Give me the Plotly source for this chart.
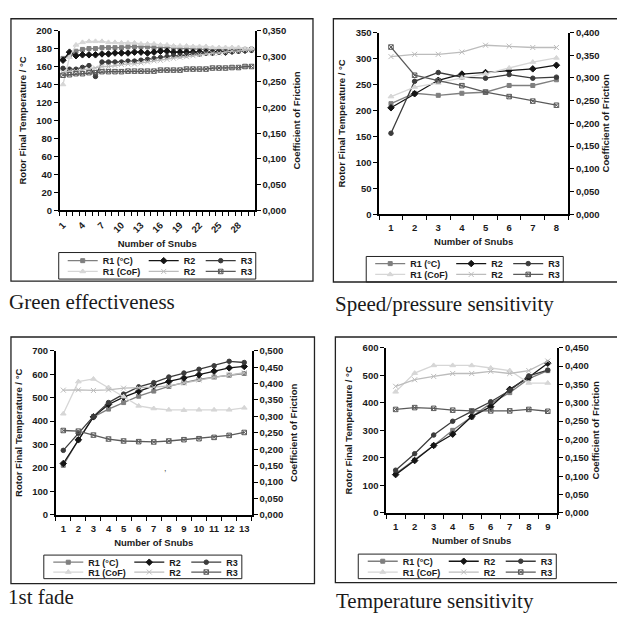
import plotly.graph_objects as go

# ---------------- data ----------------
# Green effectiveness
green_snubs = [1, 2, 3, 4, 5, 6, 7, 8, 9, 10, 11, 12, 13, 14, 15, 16, 17, 18, 19, 20,
               21, 22, 23, 24, 25, 26, 27, 28, 29, 30]
green_tickvals = [1, 4, 7, 10, 13, 16, 19, 22, 25, 28]
green_ticktext = ["1", "4", "7", "10", "13", "16", "19", "22", "25", "28"]
green_r1_temp = [169, 172, 177, 179, 180, 180, 181, 181, 181, 181, 182, 182, 182, 182, 181,
                 181, 181, 181, 180, 180, 180, 179, 179, 179, 179, 178, 178, 178, 179, 179]
green_r2_temp = [167, 176, 172, 173, 173, 173, 174, 174, 175, 175, 175, 176, 176, 175, 176,
                 177, 177, 176, 176, 176, 176, 176, 176, 176, 177, 176, 177, 178, 178, 179]
green_r3_temp = [158, 157, 157, 159, 161, 149, 165, 165, 165, 165, 166, 166, 167, 168, 169,
                 170, 171, 172, 172, 173, 174, 174, 175, 175, 176, 176, 177, 177, 178, 178]
green_r1_cof = [0.245, 0.298, 0.322, 0.327, 0.329, 0.329, 0.329, 0.327, 0.327, 0.326,
                0.326, 0.326, 0.324, 0.324, 0.324, 0.322, 0.322, 0.320, 0.320, 0.320,
                0.319, 0.319, 0.319, 0.317, 0.317, 0.317, 0.317, 0.317, 0.315, 0.315]
green_r2_cof = [0.268, 0.271, 0.271, 0.273, 0.275, 0.277, 0.280, 0.280, 0.282, 0.284,
                0.285, 0.285, 0.287, 0.289, 0.291, 0.292, 0.294, 0.296, 0.298, 0.299,
                0.301, 0.303, 0.305, 0.306, 0.306, 0.308, 0.310, 0.310, 0.312, 0.312]
green_r3_cof = [0.263, 0.264, 0.266, 0.266, 0.268, 0.268, 0.270, 0.270, 0.270, 0.270,
                0.271, 0.271, 0.271, 0.271, 0.271, 0.273, 0.273, 0.273, 0.273, 0.275,
                0.275, 0.275, 0.275, 0.277, 0.277, 0.277, 0.278, 0.278, 0.280, 0.280]

# Speed/pressure sensitivity
speed_snubs = [1, 2, 3, 4, 5, 6, 7, 8]
speed_ticktext = ["1", "2", "3", "4", "5", "6", "7", "8"]
speed_r1_temp = [213, 233, 229, 233, 235, 248, 248, 259]
speed_r2_temp = [205, 232, 258, 270, 273, 277, 280, 287]
speed_r3_temp = [156, 256, 273, 264, 262, 269, 262, 264]
speed_r1_cof = [0.259, 0.280, 0.289, 0.300, 0.309, 0.322, 0.335, 0.344]
speed_r2_cof = [0.347, 0.352, 0.352, 0.357, 0.372, 0.370, 0.367, 0.367]
speed_r3_cof = [0.368, 0.306, 0.294, 0.283, 0.269, 0.259, 0.249, 0.240]

# 1st fade
fade_snubs = [1, 2, 3, 4, 5, 6, 7, 8, 9, 10, 11, 12, 13]
fade_ticktext = ["1", "2", "3", "4", "5", "6", "7", "8", "9", "10", "11", "12", "13"]
fade_r1_temp = [211, 320, 418, 451, 479, 506, 528, 548, 564, 578, 588, 596, 603]
fade_r2_temp = [219, 320, 418, 471, 502, 527, 550, 569, 584, 598, 613, 627, 633]
fade_r3_temp = [275, 348, 420, 479, 515, 546, 564, 588, 605, 621, 636, 655, 650]
fade_r1_cof = [0.308, 0.406, 0.414, 0.388, 0.360, 0.332, 0.324, 0.320, 0.319, 0.320, 0.320, 0.320, 0.326]
fade_r2_cof = [0.380, 0.381, 0.379, 0.381, 0.386, 0.387, 0.389, 0.393, 0.402, 0.411, 0.419, 0.426, 0.433]
fade_r3_cof = [0.257, 0.255, 0.243, 0.231, 0.225, 0.223, 0.222, 0.225, 0.229, 0.232, 0.236, 0.242, 0.251]

# Temperature sensitivity
temp_snubs = [1, 2, 3, 4, 5, 6, 7, 8, 9]
temp_ticktext = ["1", "2", "3", "4", "5", "6", "7", "8", "9"]
temp_r1_temp = [142, 192, 245, 300, 348, 398, 437, 488, 517]
temp_r2_temp = [139, 190, 245, 286, 350, 386, 449, 493, 544]
temp_r3_temp = [155, 215, 283, 333, 369, 404, 445, 498, 519]
temp_r1_cof = [0.330, 0.381, 0.402, 0.402, 0.402, 0.395, 0.388, 0.354, 0.354]
temp_r2_cof = [0.345, 0.363, 0.372, 0.380, 0.380, 0.386, 0.380, 0.388, 0.414]
temp_r3_cof = [0.282, 0.287, 0.285, 0.280, 0.278, 0.278, 0.278, 0.282, 0.277]

temp_names = ["R1 (°C)", "R2", "R3"]
cof_names = ["R1 (CoF)", "R2", "R3"]
captions = ["Green effectiveness", "Speed/pressure sensitivity", "1st fade", "Temperature sensitivity"]

# ---------------- layout helpers ----------------
W, H = 617, 620
def px(x): return x / W
def py(y): return 1 - y / H

SANS = "Liberation Sans, Arial, sans-serif"
SERIF = "Liberation Serif, Times New Roman, serif"
INK = "#1a1a1a"

temp_styles = [dict(color="#7f7f7f", symbol="square", size=4),
               dict(color="#151515", symbol="diamond", size=5),
               dict(color="#3c3c3c", symbol="circle", size=4.5)]
cof_styles = [dict(color="#d6d6d6", symbol="triangle-up", size=5),
              dict(color="#bcbcbc", symbol="x-thin-open", size=5),
              dict(color="#5a5a5a", symbol="square-x-open", size=4.5)]
legend_widths = [36, 12, 12]

panels = [
    dict(x=green_snubs, tickvals=green_tickvals, ticktext=green_ticktext, angle=-45,
         temp=[green_r1_temp, green_r2_temp, green_r3_temp],
         cof=[green_r1_cof, green_r2_cof, green_r3_cof],
         tmax=200, tdt=20, cmax=0.35, rstand=8,
         plot=(57, 253, 25, 208), frame=(8, 311.5, 13, 280),
         leg=(60, 259, 270), box=(56, 254, 251, 278), cap=(4, 301)),
    dict(x=speed_snubs, tickvals=speed_snubs, ticktext=speed_ticktext, angle=0,
         temp=[speed_r1_temp, speed_r2_temp, speed_r3_temp],
         cof=[speed_r1_cof, speed_r2_cof, speed_r3_cof],
         tmax=350, tdt=50, cmax=0.40, rstand=1,
         plot=(378, 568, 27, 212), frame=(332, 630, 13, 281),
         leg=(369, 262, 273), box=(365, 563, 255, 281), cap=(332, 303)),
    dict(x=fade_snubs, tickvals=fade_snubs, ticktext=fade_ticktext, angle=0,
         temp=[fade_r1_temp, fade_r2_temp, fade_r3_temp],
         cof=[fade_r1_cof, fade_r2_cof, fade_r3_cof],
         tmax=700, tdt=100, cmax=0.50, rstand=8,
         plot=(53, 250, 351, 518), frame=(8, 313, 337, 588),
         leg=(45.5, 566, 576), box=(41, 240, 559, 583), cap=(3, 602)),
    dict(x=temp_snubs, tickvals=temp_snubs, ticktext=temp_ticktext, angle=0,
         temp=[temp_r1_temp, temp_r2_temp, temp_r3_temp],
         cof=[temp_r1_cof, temp_r2_cof, temp_r3_cof],
         tmax=600, tdt=100, cmax=0.45, rstand=5,
         plot=(385, 557, 348, 516), frame=(334, 630, 337, 587),
         leg=(361.5, 565, 576), box=(357, 556, 558, 583), cap=(333, 606)),
]

fig = go.Figure()
layout = dict(width=W, height=H, margin=dict(l=0, r=0, t=0, b=0),
              paper_bgcolor="white", plot_bgcolor="rgba(0,0,0,0)",
              separators=",.", showlegend=True, hovermode=False,
              font=dict(family=SANS, color=INK), shapes=[], annotations=[])

tickfont = dict(family=SANS, size=9.5, color=INK, weight="bold")
titlefont = dict(family=SANS, size=9.5, color=INK, weight="bold")

for i, p in enumerate(panels, start=1):
    xs = "" if i == 1 else str(i)
    yl = 2 * i - 1
    yr = 2 * i
    yls = "" if yl == 1 else str(yl)
    yrs = str(yr)
    legT = "legend" + ("" if yl == 1 else str(yl))
    legC = "legend" + str(yr)
    x0, x1, y0, y1 = p["plot"]
    n = len(p["x"])

    for k in range(3):
        st = temp_styles[k]
        fig.add_trace(go.Scatter(
            x=p["x"], y=p["temp"][k], xaxis="x" + xs, yaxis="y" + yls,
            mode="lines+markers", name=temp_names[k], legend=legT,
            legendwidth=legend_widths[k],
            line=dict(color=st["color"], width=1.3),
            marker=dict(symbol=st["symbol"], size=st["size"], color=st["color"],
                        line=dict(color=st["color"], width=1))))
    for k in range(3):
        st = cof_styles[k]
        fig.add_trace(go.Scatter(
            x=p["x"], y=p["cof"][k], xaxis="x" + xs, yaxis="y" + yrs,
            mode="lines+markers", name=cof_names[k], legend=legC,
            legendwidth=legend_widths[k],
            line=dict(color=st["color"], width=1.3),
            marker=dict(symbol=st["symbol"], size=st["size"], color=st["color"],
                        line=dict(color=st["color"], width=1))))

    layout["xaxis" + xs] = dict(
        domain=[px(x0), px(x1)], anchor="y" + yls, range=[0.5, n + 0.5],
        tickmode="array", tickvals=p["tickvals"], ticktext=p["ticktext"],
        tickangle=p["angle"], ticks="outside", ticklen=4, tickcolor="rgba(0,0,0,0)",
        minor=dict(tickmode="linear", tick0=0.5, dtick=1, ticks="outside",
                   ticklen=4, tickwidth=1, tickcolor="black", showgrid=False),
        showline=True, linecolor="black", linewidth=1.5, showgrid=False, zeroline=False,
        tickfont=tickfont, title=dict(text="Number of Snubs", font=titlefont, standoff=6))
    layout["yaxis" + yls] = dict(
        domain=[py(y1), py(y0)], anchor="x" + xs, range=[0, p["tmax"]],
        tickmode="linear", tick0=0, dtick=p["tdt"], ticks="outside", ticklen=4,
        tickwidth=1, tickcolor="black", showline=True, linecolor="black", linewidth=1.5,
        showgrid=False, zeroline=False, tickfont=tickfont,
        title=dict(text="Rotor Final Temperature / °C", font=titlefont, standoff=8))
    layout["yaxis" + yrs] = dict(
        domain=[py(y1), py(y0)], anchor="x" + xs, overlaying="y" + yls, side="right",
        range=[0, p["cmax"]], tickmode="linear", tick0=0, dtick=0.05, tickformat=".3f",
        ticks="outside", ticklen=4, tickwidth=1, tickcolor="black",
        showline=True, linecolor="black", linewidth=1.5, showgrid=False, zeroline=False,
        tickfont=tickfont,
        title=dict(text="Coefficient of Friction", font=titlefont, standoff=p["rstand"]))

    lx, r1, r2 = p["leg"]
    for lid, rowc in ((legT, r1), (legC, r2)):
        layout[lid] = dict(x=px(lx), y=py(rowc - 14.5), xanchor="left", yanchor="top",
                           orientation="h", bgcolor="rgba(0,0,0,0)", borderwidth=0,
                           itemwidth=30, tracegroupgap=0, itemclick=False,
                           font=dict(family=SANS, size=9, color=INK, weight="bold"))

    fx0, fx1, fy0, fy1 = p["frame"]
    layout["shapes"].append(dict(type="rect", xref="paper", yref="paper",
                                 x0=px(fx0), x1=px(fx1), y0=py(fy1), y1=py(fy0),
                                 line=dict(color="#222", width=1.3), layer="below"))
    bx0, bx1, by0, by1 = p["box"]
    layout["shapes"].append(dict(type="rect", xref="paper", yref="paper",
                                 x0=px(bx0), x1=px(bx1), y0=py(by1), y1=py(by0),
                                 line=dict(color="#222", width=1), layer="below"))
    cx, cy = p["cap"]
    layout["annotations"].append(dict(text=captions[i - 1], xref="paper", yref="paper",
                                      x=px(cx), y=py(cy), xanchor="left", yanchor="middle",
                                      showarrow=False,
                                      font=dict(family=SERIF, size=21, color=INK)))

# stray mark present in the original figure
layout["annotations"].append(dict(text=",", xref="paper", yref="paper", x=px(160), y=py(477),
                                  showarrow=False, font=dict(family=SANS, size=9, color="#555")))

fig.update_layout(**layout)
fig.write_html("out.html", config={"displayModeBar": False},
               post_script="document.body.style.margin='0';")
